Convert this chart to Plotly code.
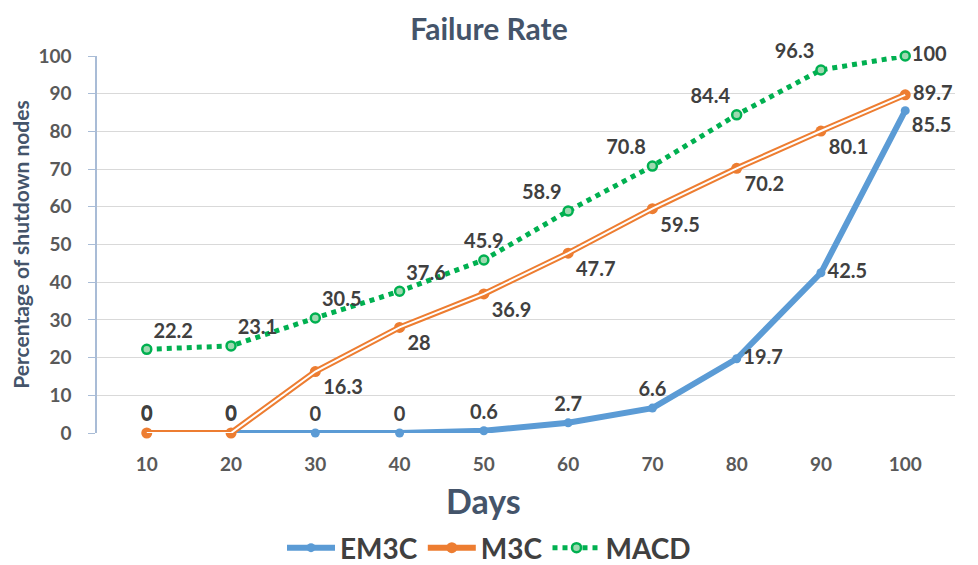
import plotly.graph_objects as go

days = ["10", "20", "30", "40", "50", "60", "70", "80", "90", "100"]
em3c = [0, 0, 0, 0, 0.6, 2.7, 6.6, 19.7, 42.5, 85.5]
m3c = [0, 0, 16.3, 28, 36.9, 47.7, 59.5, 70.2, 80.1, 89.7]
macd = [22.2, 23.1, 30.5, 37.6, 45.9, 58.9, 70.8, 84.4, 96.3, 100]

em3c_pos = ["top center"] * 7 + ["middle right", "middle right", "bottom right"]
m3c_pos = ["top center", "top center"] + ["bottom right"] * 7 + ["middle right"]
macd_pos = ["top right"] * 4 + ["top center", "top left", "top left", "top left", "top left", "middle right"]

BLUE = "#5B9BD5"
ORANGE = "#ED7D31"
GREEN = "#00B050"
FAM = "Lato, Open Sans, sans-serif"
LABEL = dict(family=FAM, size=20, color="#404040", weight="bold")

fig = go.Figure()
fig.add_trace(go.Scatter(
    x=days, y=em3c, name="EM3C", mode="lines+markers+text",
    line=dict(color=BLUE, width=6),
    marker=dict(color=BLUE, size=9),
    text=[str(v) for v in em3c], textposition=em3c_pos, textfont=LABEL, cliponaxis=False,
))
fig.add_trace(go.Scatter(
    x=days, y=m3c, name="M3C", mode="lines+markers+text", legendgroup="m3c",
    line=dict(color=ORANGE, width=6),
    marker=dict(color=ORANGE, size=11),
    text=[str(v) for v in m3c], textposition=m3c_pos, textfont=LABEL, cliponaxis=False,
))
fig.add_trace(go.Scatter(
    x=days, y=m3c, mode="lines", legendgroup="m3c", showlegend=False,
    line=dict(color="white", width=2), hoverinfo="skip", cliponaxis=False,
))
fig.add_trace(go.Scatter(
    x=days, y=macd, name="MACD", mode="lines+markers+text",
    line=dict(color=GREEN, width=5, dash="dot"),
    marker=dict(color="#9ED9B0", size=9, line=dict(color=GREEN, width=2.5)),
    text=[str(v) for v in macd], textposition=macd_pos, textfont=LABEL, cliponaxis=False,
))

W, H = 962, 557
fig.update_layout(
    width=W, height=H,
    margin=dict(l=89, r=15, t=48, b=132, autoexpand=False),
    paper_bgcolor="white", plot_bgcolor="white",
    title=dict(text="Failure Rate", x=0.5, xanchor="center", y=1 - 21 / H, yanchor="middle",
               font=dict(family=FAM, size=30, color="#44546A", weight="bold")),
    showlegend=True,
    legend=dict(orientation="h", xref="container", x=0.5, xanchor="center", y=-0.305, yanchor="middle",
                font=dict(family=FAM, size=28, color="#404040", weight="bold"),
                itemwidth=48, tracegroupgap=0),
    annotations=[dict(text="Days", xref="paper", yref="paper", x=0.45, y=-0.18,
                      xanchor="center", yanchor="middle", showarrow=False,
                      font=dict(family=FAM, size=34, color="#44546A", weight="bold"))],
    xaxis=dict(
        type="category", showgrid=False, showline=False, ticks="", automargin=False,
        ticklabelstandoff=18,
        tickfont=dict(family=FAM, size=19, color="#595959", weight="bold"),
    ),
    yaxis=dict(
        range=[0, 100], dtick=10, showgrid=True, gridcolor="#D9D9D9", gridwidth=1, automargin=False,
        showline=True, linecolor="#A9BCD6", linewidth=1.5, ticks="outside", ticklen=7, tickcolor="#A9BCD6",
        zeroline=False, ticklabelstandoff=13,
        tickfont=dict(family=FAM, size=19, color="#595959", weight="bold"),
        title=dict(text="Percentage of shutdown nodes", standoff=15,
                   font=dict(family=FAM, size=21, color="#44546A", weight="bold")),
    ),
)
fig.write_html("out.html")
